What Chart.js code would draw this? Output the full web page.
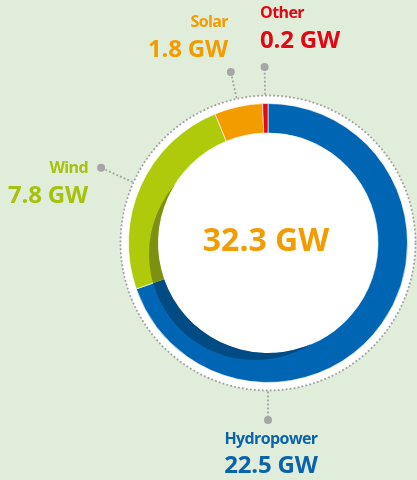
<!DOCTYPE html>
<html>
<head>
<meta charset="utf-8">
<script src="https://cdn.jsdelivr.net/npm/chart.js@4/dist/chart.umd.min.js"></script>
<style>
    html, body { margin: 0; padding: 0; background: #e1eddb; }
    #wrap { position: relative; width: 417px; height: 480px; overflow: hidden; font-family: "Open Sans", sans-serif; }
    #wrap canvas { position: absolute; left: 0; top: 0; }
    .lbl { position: absolute; line-height: 1; white-space: nowrap; }
    .name { font-size: 16px; font-weight: 700; letter-spacing: -0.6px; }
    .val { font-size: 24px; font-weight: 700; letter-spacing: -0.2px; }
</style>
</head>
<body>
<div id="wrap">
    <canvas id="capacityChart" width="417" height="480"></canvas>
</div>
<script>
const categories = ["Hydropower", "Wind", "Solar", "Other"];
const capacityGW = [22.5, 7.8, 1.8, 0.2];
const unit = "GW";

const colors = ["#0066b3", "#afca0b", "#f39c00", "#e30613"];
const shades = ["#004b83", "#7d9012", "#b87600", "#a8000f"];
const textColors = ["#0a63ab", "#a6c20c", "#f39c00", "#e30613"];

// where the labels sit (left/right/center anchor x, baseline of name, baseline of value)
const labelLayout = {
    Hydropower: { align: "center", x: 271, nameBase: 444, valBase: 473 },
    Wind: { align: "right", x: 88, nameBase: 173, valBase: 203 },
    Solar: { align: "right", x: 228, nameBase: 27, valBase: 57 },
    Other: { align: "left", x: 260, nameBase: 18, valBase: 48 }
};
// leader: radius of the grey dot, and whether it points straight down
const leaderLayout = {
    Hydropower: { r: 177, down: true },
    Wind: { r: 183 },
    Solar: { r: 175 },
    Other: { r: 176 }
};

const wrap = document.getElementById("wrap");
function addText(text, cls, color, align, x, base, size) {
    const el = document.createElement("div");
    el.className = "lbl " + cls;
    el.textContent = text;
    el.style.color = color;
    el.style.top = (base - 0.888 * size) + "px";
    if (align === "left") el.style.left = x + "px";
    else if (align === "right") el.style.right = (417 - x) + "px";
    else { el.style.left = x + "px"; el.style.transform = "translateX(-50%)"; }
    wrap.appendChild(el);
    return el;
}

categories.forEach((name, i) => {
    const l = labelLayout[name];
    addText(name, "name", textColors[i], l.align, l.x, l.nameBase, 16);
    addText(capacityGW[i].toFixed(1) + " " + unit, "val", textColors[i], l.align, l.x, l.valBase, 24);
});

const total = capacityGW.reduce((a, b) => a + b, 0);

const ringDecor = {
    id: "ringDecor",
    beforeDatasetsDraw(chart) {
        const ctx = chart.ctx;
        const first = chart.getDatasetMeta(0).data[0];
        const p = first.getProps(["x", "y", "outerRadius"], true);
        ctx.save();
        ctx.beginPath();
        ctx.arc(p.x, p.y, p.outerRadius + 8, 0, Math.PI * 2);
        ctx.fillStyle = "#ffffff";
        ctx.fill();
        ctx.setLineDash([1.8, 2.2]);
        ctx.lineWidth = 1.8;
        ctx.strokeStyle = "#a0a0a0";
        ctx.stroke();
        ctx.restore();
    },
    afterDatasetsDraw(chart) {
        const ctx = chart.ctx;
        const meta = chart.getDatasetMeta(0);

        // darker inner crescent (3d look)
        meta.data.forEach((arc, i) => {
            const p = arc.getProps(["x", "y", "startAngle", "endAngle", "innerRadius", "outerRadius"], true);
            ctx.save();
            ctx.beginPath();
            ctx.arc(p.x, p.y, p.outerRadius, p.startAngle, p.endAngle);
            ctx.arc(p.x, p.y, p.innerRadius, p.endAngle, p.startAngle, true);
            ctx.closePath();
            ctx.clip();
            ctx.beginPath();
            ctx.arc(p.x - 13, p.y + 11, p.innerRadius - 4, 0, Math.PI * 2);
            ctx.fillStyle = shades[i];
            ctx.fill();
            ctx.restore();
        });

        // leader lines with grey dots
        meta.data.forEach((arc, i) => {
            const p = arc.getProps(["x", "y", "startAngle", "endAngle", "outerRadius"], true);
            const lay = leaderLayout[categories[i]];
            const a = lay.down ? Math.PI / 2 : (p.startAngle + p.endAngle) / 2;
            const r0 = p.outerRadius + 9;
            const x0 = p.x + Math.cos(a) * r0, y0 = p.y + Math.sin(a) * r0;
            const x1 = p.x + Math.cos(a) * lay.r, y1 = p.y + Math.sin(a) * lay.r;
            ctx.save();
            ctx.setLineDash([1.8, 2.2]);
            ctx.lineWidth = 1.8;
            ctx.strokeStyle = "#a0a0a0";
            ctx.beginPath();
            ctx.moveTo(x0, y0);
            ctx.lineTo(x1, y1);
            ctx.stroke();
            ctx.setLineDash([]);
            ctx.beginPath();
            ctx.arc(x1, y1, 4, 0, Math.PI * 2);
            ctx.fillStyle = "#a6a6a6";
            ctx.fill();
            ctx.restore();
        });

        // total in the middle
        const c = meta.data[0].getProps(["x", "y"], true);
        ctx.save();
        ctx.font = "700 32px 'Open Sans'";
        ctx.fillStyle = "#f39c00";
        ctx.textAlign = "center";
        ctx.textBaseline = "alphabetic";
        ctx.fillText(total.toFixed(1) + " " + unit, c.x - 2, c.y + 8);
        ctx.restore();
    }
};

new Chart(document.getElementById("capacityChart"), {
    type: "doughnut",
    data: {
        labels: categories,
        datasets: [{
            data: capacityGW,
            backgroundColor: colors,
            borderColor: "rgba(255,255,255,0.6)",
            borderWidth: 1
        }]
    },
    options: {
        responsive: false,
        animation: false,
        cutout: 110,
        layout: { padding: { left: 128, right: 9, top: 103, bottom: 97 } },
        plugins: {
            legend: { display: false },
            tooltip: { enabled: false }
        }
    },
    plugins: [ringDecor]
});
</script>
</body>
</html>
